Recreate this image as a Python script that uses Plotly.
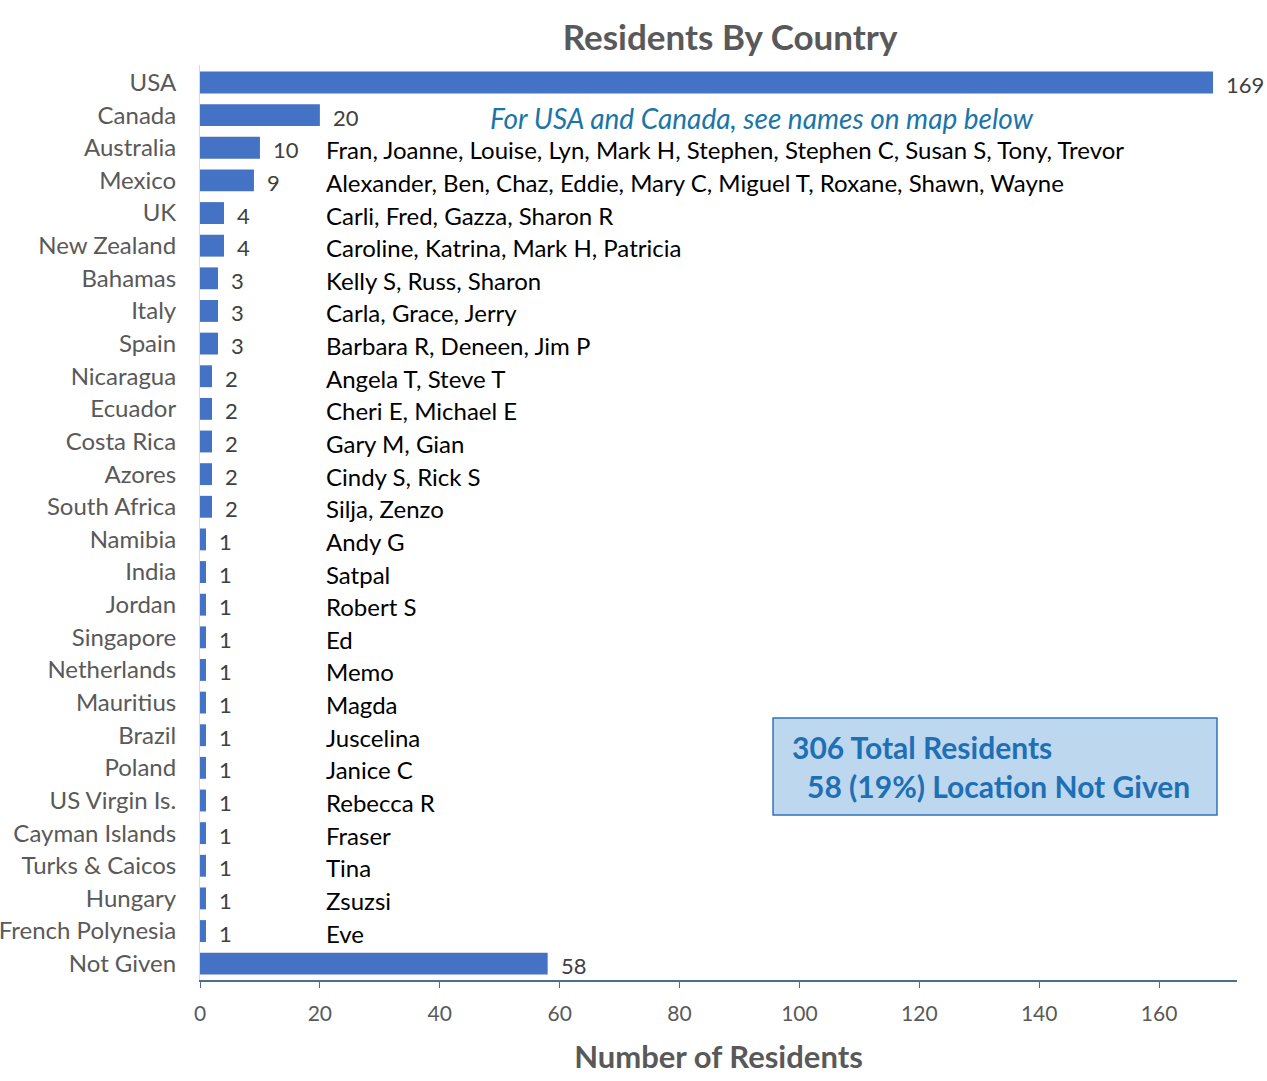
import plotly.graph_objects as go

countries = ["USA", "Canada", "Australia", "Mexico", "UK", "New Zealand", "Bahamas", "Italy",
             "Spain", "Nicaragua", "Ecuador", "Costa Rica", "Azores", "South Africa", "Namibia",
             "India", "Jordan", "Singapore", "Netherlands", "Mauritius", "Brazil", "Poland",
             "US Virgin Is.", "Cayman Islands", "Turks & Caicos", "Hungary", "French Polynesia",
             "Not Given"]
residents = [169, 20, 10, 9, 4, 4, 3, 3, 3, 2, 2, 2, 2, 2, 1, 1, 1, 1, 1, 1, 1, 1, 1, 1, 1, 1, 1, 58]
names = ["", "",
         "Fran, Joanne, Louise, Lyn, Mark H, Stephen, Stephen C, Susan S, Tony, Trevor",
         "Alexander, Ben, Chaz, Eddie, Mary C, Miguel T, Roxane, Shawn, Wayne",
         "Carli, Fred, Gazza, Sharon R",
         "Caroline, Katrina, Mark H, Patricia",
         "Kelly S, Russ, Sharon",
         "Carla, Grace, Jerry",
         "Barbara R, Deneen, Jim P",
         "Angela T, Steve T",
         "Cheri E, Michael E",
         "Gary M, Gian",
         "Cindy S, Rick S",
         "Silja, Zenzo",
         "Andy G", "Satpal", "Robert S", "Ed", "Memo", "Magda", "Juscelina", "Janice C",
         "Rebecca R", "Fraser", "Tina", "Zsuzsi", "Eve", ""]
x_ticks = [0, 20, 40, 60, 80, 100, 120, 140, 160]
names_x = 20.7
note_text = "For USA and Canada, see names on map below"
box_line1 = "306 Total Residents"
box_line2 = "58 (19%) Location Not Given"

FONT = "Lato"
W, H = 1267, 1081

fig = go.Figure(go.Bar(
    x=residents, y=countries, orientation="h",
    marker=dict(color="#4472C4", line=dict(width=0)),
    hoverinfo="x+y",
))

annotations = []
for c, v in zip(countries, residents):
    annotations.append(dict(x=v, y=c, xref="x", yref="y", text=str(v), showarrow=False,
                            xanchor="left", xshift=11, yshift=-2,
                            font=dict(family=FONT, size=22, color="#404040")))
for c, n in zip(countries, names):
    if n:
        annotations.append(dict(x=names_x, y=c, xref="x", yref="y", text=n, showarrow=False,
                                xanchor="left", yshift=-2,
                                font=dict(family=FONT, size=24, color="#000000")))

annotations.append(dict(x=0.542, y="Canada", xref="paper", yref="y", text="<i>" + note_text + "</i>",
                        showarrow=False, xanchor="center", yshift=-3,
                        font=dict(family=FONT, size=28, color="#1A75A8")))
annotations.append(dict(x=0.569, y=0.2546, xref="paper", yref="paper", text="<b>" + box_line1 + "</b>",
                        showarrow=False, xanchor="left", yanchor="middle",
                        font=dict(family=FONT, size=30, color="#1F6FB5")))
annotations.append(dict(x=0.5834, y=0.2120, xref="paper", yref="paper", text="<b>" + box_line2 + "</b>",
                        showarrow=False, xanchor="left", yanchor="middle",
                        font=dict(family=FONT, size=30, color="#1F6FB5")))

fig.update_layout(
    width=W, height=H,
    paper_bgcolor="white", plot_bgcolor="white",
    margin=dict(l=200, r=30, t=65, b=101, autoexpand=False),
    bargap=0.33,
    showlegend=False,
    title=dict(text="<b>Residents By Country</b>", x=730/W, xanchor="center",
               y=1 - 38/H, yanchor="middle",
               font=dict(family=FONT, size=35, color="#595959")),
    xaxis=dict(range=[0, 173], tickvals=x_ticks, showgrid=False, zeroline=False,
               showline=True, linecolor="#4F6E8C", linewidth=2,
               ticks="outside", ticklen=6, tickcolor="#4F6E8C", tickwidth=1,
               ticklabelstandoff=8, automargin=False,
               tickfont=dict(family=FONT, size=21, color="#595959"),
               title=dict(text="<b>Number of Residents</b>", standoff=22,
                          font=dict(family=FONT, size=31, color="#595959"))),
    yaxis=dict(autorange="reversed", showgrid=False, zeroline=False,
               showline=True, linecolor="#D9D9D9", linewidth=1,
               ticks="", ticklabelstandoff=18, automargin=False,
               tickfont=dict(family=FONT, size=24, color="#595959")),
    shapes=[dict(type="rect", xref="paper", yref="paper", x0=0.5526, x1=0.9807, y0=0.1803, y1=0.2863,
                 fillcolor="#BDD7EE", line=dict(color="#2E75B6", width=1.5), layer="below")],
    annotations=annotations,
)

fig.write_html("out.html", config={"displayModeBar": False},
               post_script="document.body.style.margin='0px';")
